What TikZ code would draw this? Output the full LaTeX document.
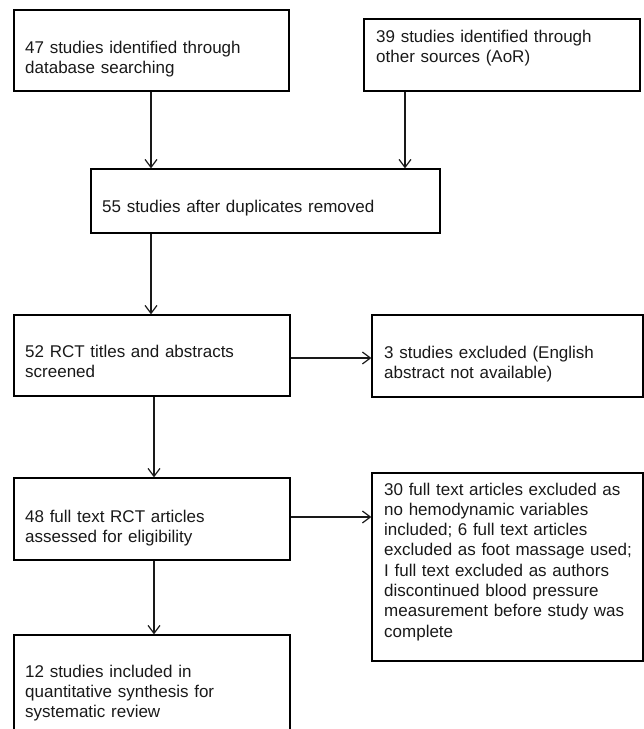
\documentclass[tikz,border=0pt]{standalone}
\usepackage{fontspec}
\setmainfont{Liberation Sans}
\usetikzlibrary{arrows.meta}
\hyphenpenalty=10000
\begin{document}
\begin{tikzpicture}[x=1pt,y=-1pt,
  box/.style={draw=black,line width=1.2pt,rectangle,inner sep=0pt,minimum width=#1},
  txt/.style={anchor=base west,inner sep=0pt,text width=330pt,align=left,
    font=\fontsize{17}{20.3}\selectfont,text=black!90},
  arr/.style={draw=black!90,line width=1.2pt,-{Straight Barb[length=8pt,width=12pt,line width=1.2pt]}}]
\useasboundingbox (0,0) rectangle (644,729);
% boxes (corner coordinates)
\node[box=275pt,minimum height=81pt] (b1) at (151.5,50.5) {};
\node[box=276pt,minimum height=72pt] (b2) at (502,55) {};
\node[box=349pt,minimum height=64pt] (b3) at (265.5,201) {};
\node[box=276pt,minimum height=81pt] (b4) at (152,355.5) {};
\node[box=271pt,minimum height=82pt] (b5) at (507.5,356) {};
\node[box=276pt,minimum height=82pt] (b6) at (152,519) {};
\node[box=271pt,minimum height=188pt] (b7) at (507.5,567) {};
\node[box=276pt,minimum height=120pt] (b8) at (152,695) {};
% texts
\node[txt] (t1) at (25,53) {47 studies identified through\\database searching};
\node[txt] (t2) at (376,42) {39 studies identified through\\other sources (AoR)};
\node[txt] (t3) at (102,212) {55 studies after duplicates removed};
\node[txt] (t4) at (25,357) {52 RCT titles and abstracts\\screened};
\node[txt] (t5) at (384,358) {3 studies excluded (English\\abstract not available)};
\node[txt] (t6) at (25,522) {48 full text RCT articles\\assessed for eligibility};
\node[txt] (t7) at (384,495) {30 full text articles excluded as\\no hemodynamic variables\\included; 6 full text articles\\excluded as foot massage used;\\I full text excluded as authors\\discontinued blood pressure\\measurement before study was\\complete};
\node[txt] (t8) at (25,677) {12 studies included in\\quantitative synthesis for\\systematic review};
% connectors
\draw[arr] (b1.south -| 151,0) -- (b3.north -| 151,0);
\draw[arr] (b2.south -| 405,0) -- (b3.north -| 405,0);
\draw[arr] (b3.south -| 151,0) -- (b4.north -| 151,0);
\draw[arr] (b4.south -| 154,0) -- (b6.north -| 154,0);
\draw[arr] (b6.south -| 154,0) -- (b8.north -| 154,0);
\draw[arr] (b4.east |- 0,358) -- (b5.west |- 0,358);
\draw[arr] (b6.east |- 0,517) -- (b7.west |- 0,517);
\end{tikzpicture}
\end{document}
